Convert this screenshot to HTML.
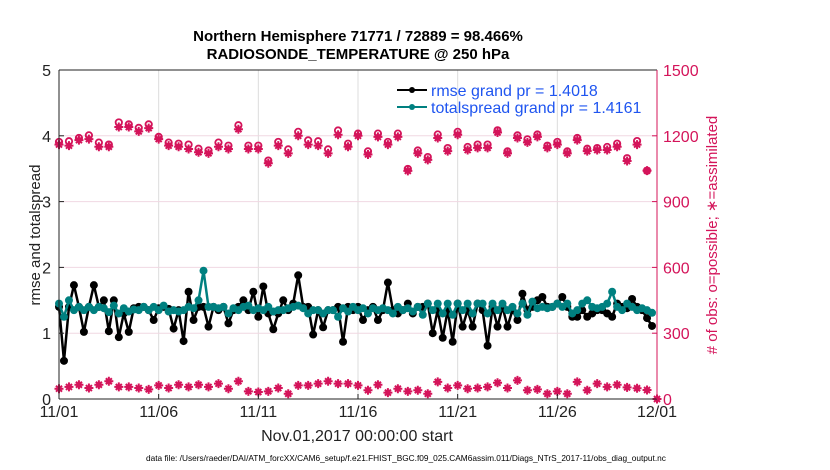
<!DOCTYPE html>
<html><head><meta charset="utf-8">
<style>
html,body{margin:0;padding:0;background:#fff;}
svg{display:block;font-family:"Liberation Sans",Arial,sans-serif;}
</style></head>
<body>
<svg id="chart" width="830" height="470" viewBox="0 0 830 470" xmlns="http://www.w3.org/2000/svg">
<text x="358" y="41" text-anchor="middle" font-size="15" font-weight="bold" fill="#000">Northern Hemisphere 71771 / 72889 = 98.466%</text>
<text x="358" y="59" text-anchor="middle" font-size="15" font-weight="bold" fill="#000">RADIOSONDE_TEMPERATURE @ 250 hPa</text>
<g id="grid"></g>
<g id="series"></g>
<g id="axes"></g>
<text transform="translate(40,235) rotate(-90)" text-anchor="middle" font-size="15" fill="#222">rmse and totalspread</text>
<text transform="translate(717,235) rotate(-90)" text-anchor="middle" font-size="15" fill="#d4145a"># of obs: o=possible; ∗=assimilated</text>
<text x="357" y="441" text-anchor="middle" font-size="16" fill="#222">Nov.01,2017 00:00:00 start</text>
<text x="146" y="461" font-size="8.3" fill="#000">data file: /Users/raeder/DAI/ATM_forcXX/CAM6_setup/f.e21.FHIST_BGC.f09_025.CAM6assim.011/Diags_NTrS_2017-11/obs_diag_output.nc</text>
<g>
  <line x1="397" y1="90" x2="427" y2="90" stroke="#000" stroke-width="2"/>
  <circle cx="412" cy="90" r="3" fill="#000"/>
  <text x="431" y="96" font-size="16" fill="#1f55f0">rmse grand pr = 1.4018</text>
  <line x1="397" y1="107" x2="427" y2="107" stroke="#008080" stroke-width="2"/>
  <circle cx="412" cy="107" r="3" fill="#008080"/>
  <text x="431" y="113" font-size="16" fill="#1f55f0">totalspread grand pr = 1.4161</text>
</g>
</svg>
<script>
const rmse = [1.4,0.58,1.4,1.73,1.4,1.02,1.4,1.73,1.4,
1.5,1.03,1.5,0.94,1.3,1.02,1.38,1.4,1.4,1.35,1.2,1.38,1.4,1.37,1.07,1.35,0.88,
1.63,1.2,1.4,1.4,1.1,1.4,1.35,1.4,1.15,1.35,1.4,1.5,1.35,1.63,1.25,1.71,1.3,1.06,1.3,
1.5,1.35,1.45,1.88,1.4,1.4,0.98,1.35,1.09,1.35,1.35,1.4,0.87,1.4,1.35,1.4,1.2,1.35,1.4,
1.2,1.35,1.77,1.35,1.3,1.35,1.45,1.3,1.4,1.4,1.45,1.0,1.35,0.93,1.35,0.87,1.45,1.1,1.35,1.1,1.45,
1.35,0.81,1.4,1.1,1.4,1.1,1.35,1.2,1.6,1.35,1.4,1.5,1.55,1.4,1.4,1.45,1.55,1.4,1.25,
1.25,1.35,1.25,1.3,1.35,
1.35,1.3,1.25,1.45,1.4,1.38,1.52,1.4,1.35,1.23,1.11];
const spread = [1.45,1.25,1.5,1.35,1.4,1.35,1.4,1.35,1.4,
1.38,1.32,1.42,1.3,1.38,1.33,1.36,1.35,1.4,1.35,1.4,1.35,1.42,1.33,1.35,1.33,1.35,
1.4,1.38,1.5,1.95,1.4,1.4,1.38,1.4,1.3,1.38,1.35,1.4,1.42,1.35,1.38,1.35,1.4,1.33,1.35,
1.35,1.38,1.4,1.42,1.38,1.3,1.35,1.35,1.3,1.35,1.35,1.25,1.38,1.33,1.4,1.35,1.38,1.3,1.38,
1.35,1.38,1.35,1.3,1.4,1.35,1.38,1.33,1.4,1.28,1.45,1.35,1.45,1.3,1.45,1.28,1.45,1.35,1.45,1.3,1.45,
1.45,1.3,1.45,1.35,1.45,1.35,1.4,1.3,1.45,1.28,1.48,1.38,1.4,1.38,1.4,1.45,1.4,1.45,1.3,
1.35,1.45,1.5,1.4,1.38,
1.4,1.45,1.63,1.4,1.35,1.45,1.4,1.35,1.38,1.35,1.31];
const obsPossible = [1172,1175,1190,1202,1169,1160,1261,1252,1236,1252,1195,1169,1164,1160,1141,1133,1169,1155,1248,1155,1155,1087,1172,1138,1218,1179,1175,1138,1224,
1164,1210,1129,1210,1172,1210,1049,1133,1103,1206,1144,1218,1149,1160,1160,1225,1129,1202,1184,1206,1155,1172,1129,1190,1141,1144,1149,1164,1098,
1176,1041];
const obsAssim = [1160,1155,1180,1185,1150,1150,1240,1240,1220,1235,1185,1155,1150,1140,1125,1120,1150,1140,1230,1140,1140,1075,1155,1120,1200,1160,1155,1120,1205,
1150,1200,1115,1195,1160,1195,1040,1120,1090,1190,1130,1205,1135,1145,1145,1215,1120,1190,1170,1195,1145,1160,1120,1180,1130,1135,1135,1150,1085,
1160,1041];
const obsLow = [47,55,65,50,65,81,55,55,50,44,62,50,65,55,65,55,70,47,81,35,32,35,50,24,62,62,70,81,70,
70,62,40,65,29,47,35,40,24,78,50,62,47,50,55,74,50,85,40,44,24,35,24,78,40,70,55,65,
53,49,41,0];
const xTickDays = [0,5,10,15,20,25,30];
const xTickLabels = ["11/01","11/06","11/11","11/16","11/21","11/26","12/01"];
const yLeftTicks = [0,1,2,3,4,5];
const yRightTicks = [0,300,600,900,1200,1500];

const NS="http://www.w3.org/2000/svg";
const X0=59,X1=657,Y0=399,Y1=70,CR="#d4145a";
const xS=d=>X0+(d/30)*(X1-X0);
const yL=v=>Y0-(v/5)*(Y0-Y1);
const yR=v=>Y0-(v/1500)*(Y0-Y1);
function mk(tag,parent,attrs){const e=document.createElementNS(NS,tag);for(const k in attrs)e.setAttribute(k,attrs[k]);parent.appendChild(e);return e;}
const grid=document.getElementById('grid'),ser=document.getElementById('series'),axes=document.getElementById('axes');

mk('rect',grid,{x:X0,y:Y1,width:X1-X0,height:Y0-Y1,fill:'#fff'});
xTickDays.forEach((d,i)=>{
  if(i>0&&i<xTickDays.length-1){const g=mk('line',grid,{x1:xS(d),x2:xS(d),y1:Y1,y2:Y0,stroke:'#dcdcdc','stroke-width':1});
  
  }
  const t=mk('line',axes,{x1:xS(d),x2:xS(d),y1:Y0,y2:Y0-5,stroke:'#222','stroke-width':1});
  
  
  const tl=mk('text',axes,{x:xS(d),y:Y0+18,'text-anchor':'middle','font-size':16,fill:'#222'});
  tl.textContent=xTickLabels[i];
  
  
});
yRightTicks.forEach((v,i)=>{
  if(i>0&&i<yRightTicks.length-1){const g=mk('line',grid,{x1:X0,x2:X1,y1:yR(v),y2:yR(v),stroke:'#f0d8e2','stroke-width':1});
  
  }
  const t=mk('line',axes,{x1:X1,x2:X1-5,y1:yR(v),y2:yR(v),stroke:CR,'stroke-width':1});
  
  
  const tl=mk('text',axes,{x:X1+6,y:yR(v)+6,'font-size':16,fill:CR});
  tl.textContent=v;
  
  
});
yLeftTicks.forEach(v=>{
  const t=mk('line',axes,{x1:X0,x2:X0+5,y1:yL(v),y2:yL(v),stroke:'#222','stroke-width':1});
  
  
  const tl=mk('text',axes,{x:X0-8,y:yL(v)+6,'text-anchor':'end','font-size':16,fill:'#222'});
  tl.textContent=v;
  
  
});
const ax1=mk('line',axes,{x1:X0,x2:X1,y1:Y0,y2:Y0,stroke:'#222','stroke-width':1});


const ax2=mk('line',axes,{x1:X0,x2:X1,y1:Y1,y2:Y1,stroke:'#222','stroke-width':1});


const ax3=mk('line',axes,{x1:X0,x2:X0,y1:Y1,y2:Y0,stroke:'#222','stroke-width':1});


const ax4=mk('line',axes,{x1:X1,x2:X1,y1:Y1,y2:Y0,stroke:CR,'stroke-width':1});



function star(parent,cx,cy,name){
  const g=mk('g',parent,{});
  
  
  mk('path',g,{d:`M${cx-4.5},${cy}H${cx+4.5}M${cx},${cy-4.5}V${cy+4.5}M${cx-3},${cy-3}L${cx+3},${cy+3}M${cx-3},${cy+3}L${cx+3},${cy-3}`,stroke:CR,'stroke-width':2});
  mk('circle',g,{cx:cx,cy:cy,r:2.8,fill:CR});
}
function ring(parent,cx,cy,name){
  const c=mk('circle',parent,{cx:cx,cy:cy,r:3.2,fill:'none',stroke:CR,'stroke-width':1.8});
  
  
}
obsAssim.forEach((v,i)=>star(ser,xS(i*0.5),yR(v),'obs-assimilated-marker'));
obsPossible.forEach((v,i)=>ring(ser,xS(i*0.5),yR(v),'obs-possible-marker'));
obsLow.forEach((v,i)=>{star(ser,xS(i*0.5),yR(v),'obs-low-assimilated-marker');});

function line(arr,color,name,mname){
  const p=mk('polyline',ser,{points:arr.map((v,i)=>xS(i*0.25)+','+yL(v)).join(' '),fill:'none',stroke:color,'stroke-width':2.5,'stroke-linejoin':'round'});
  
  
  arr.forEach((v,i)=>{const c=mk('circle',ser,{cx:xS(i*0.25),cy:yL(v),r:4,fill:color});
  
  });
}
line(rmse,'#000','rmse-line','rmse-point');
line(spread,'#008080','totalspread-line','totalspread-point');
</script>
</body></html>
